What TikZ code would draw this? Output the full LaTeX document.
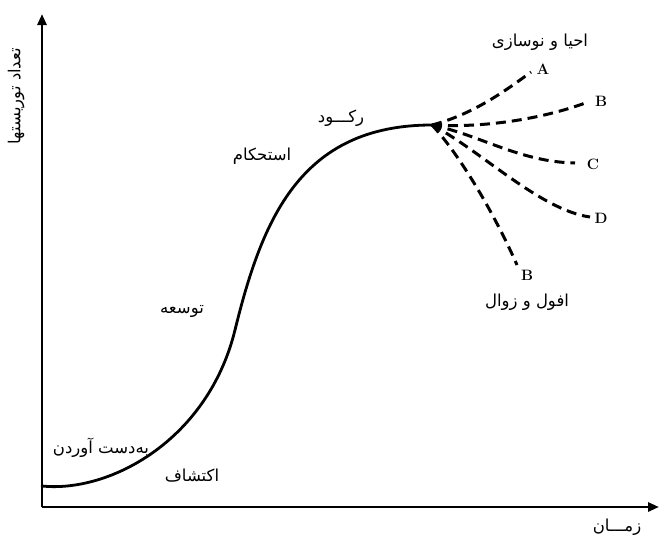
\documentclass[tikz,border=0pt]{standalone}
\usepackage{fontspec}
\usetikzlibrary{arrows.meta}
\TeXXeTstate=1
\newfontfamily\arabicfont[Script=Arabic]{DejaVu Sans}

\tikzset{
  axis/.style={line width=2.8pt,-{Triangle[length=11pt,width=9pt]}},
  cycle/.style={line width=2.8pt,line cap=round},
  futurepath/.style={line width=3pt,dash pattern=on 10pt off 6pt},
  stagelabel/.style={font=\arabicfont\fontsize{16.5}{18}\selectfont},
  letterlabel/.style={font=\bfseries\fontsize{15}{17}\selectfont}
}

\begin{document}
\begin{tikzpicture}[x=1pt,y=-1pt]
        \useasboundingbox (0,0) rectangle (660,538);

        % Axes
        \coordinate (origin) at (42,507);
        \coordinate (ytop) at (42,14);
        \coordinate (xend) at (659,507);
        \draw[axis] (origin) -- (ytop);
        \draw[axis] (origin) -- (xend);
        \node[stagelabel,rotate=90] (ylab) at (16,96) {\beginR تعداد توریستها\endR};
        \node[stagelabel] (xlab) at (617,527) {\beginR زمـــان\endR};

        % Life cycle curve
        \draw[cycle] (42,486) .. controls (110,493) and (208,440) .. (235,330)
            .. controls (262,220) and (300,125) .. (432,125);
        \coordinate (peak) at (432,125);

        % Possible futures
        \node[letterlabel] (labA) at (543,69) {A};
        \node[letterlabel] (labB) at (601,101) {B};
        \node[letterlabel] (labC) at (593,164) {C};
        \node[letterlabel] (labD) at (601,218) {D};
        \node[letterlabel] (labE) at (527,275) {B};
        \coordinate (endA) at (531,72);
        \coordinate (endB) at (588,102);
        \coordinate (endC) at (575,163);
        \coordinate (endD) at (590,217);
        \coordinate (endE) at (517,265);
        \draw[futurepath] (peak) .. controls (470,115) and (500,95) .. (endA);
        \draw[futurepath] (peak) .. controls (480,128) and (540,120) .. (endB);
        \draw[futurepath] (peak) .. controls (480,135) and (520,162) .. (endC);
        \draw[futurepath] (peak) .. controls (480,150) and (540,210) .. (endD);
        \draw[futurepath] (peak) .. controls (460,155) and (495,215) .. (endE);

        % Stage labels
        \node[stagelabel] (revival) at (540,42) {\beginR احیا و نوسازی\endR};
        \node[stagelabel] (decline) at (527,302) {\beginR افول و زوال\endR};
        \node[stagelabel] (stagnation) at (341,118) {\beginR رکـــود\endR};
        \node[stagelabel] (consolidation) at (262,156) {\beginR استحکام\endR};
        \node[stagelabel] (development) at (182,311) {\beginR توسعه\endR};
        \node[stagelabel] (involvement) at (101,448) {\beginR به‌دست آوردن\endR};
        \node[stagelabel] (exploration) at (192,476) {\beginR اکتشاف\endR};
    \end{tikzpicture}
\end{document}
